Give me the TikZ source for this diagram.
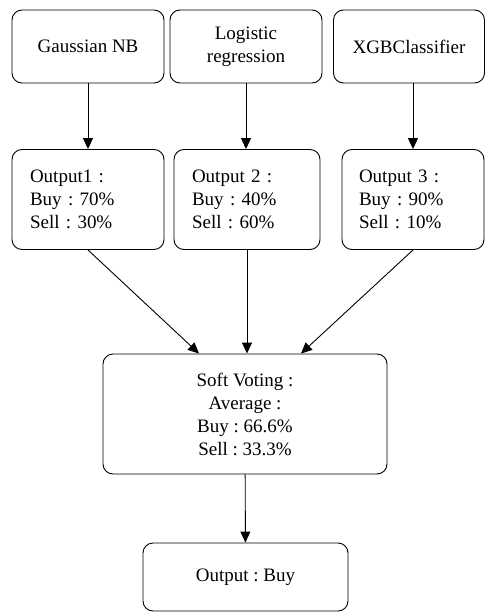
\documentclass[tikz,border=0pt]{standalone}
\usepackage{fontspec}
\setmainfont{Liberation Serif}
\newfontfamily\boxfont{Liberation Serif}
\usetikzlibrary{arrows.meta,positioning}
\frenchspacing

\begin{document}
\begin{tikzpicture}[x=1pt, y=-1pt,
    box/.style={draw, rounded corners=10pt, line width=0.9pt, align=center, inner sep=0pt,
        font=\boxfont\fontsize{19}{23}\selectfont},
    res/.style={box, align=left, minimum height=100pt},
    flow/.style={-{Triangle[length=11pt,width=10pt]}, line width=0.9pt}]
    \useasboundingbox (0,0) rectangle (485,613);

    % models
    \node[box, minimum width=152pt, minimum height=73pt] (gnb) at (88,46.5) {Gaussian NB};
    \node[box, minimum width=152pt, minimum height=73pt] (logreg) at (246,46.5) {Logistic\\regression};
    \node[box, minimum width=151pt, minimum height=73pt] (xgb) at (409,46.5) {XGBClassifier};

    % outputs
    \node[res, text width=116pt, inner xsep=18pt] (out1) at (88,199.5) {Output1 :\\Buy : 70\%\\Sell : 30\%};
    \node[res, text width=110pt, inner xsep=18pt] (out2) at (247,199.5) {Output 2 :\\Buy : 40\%\\Sell : 60\%};
    \node[res, text width=108pt, inner xsep=17pt] (out3) at (413,199.5) {Output 3 :\\Buy : 90\%\\Sell : 10\%};

    \node[box, minimum width=284pt, minimum height=120pt] (vote) at (245,414) {Soft Voting :\\Average :\\Buy : 66.6\%\\Sell : 33.3\%};
    \node[box, minimum width=205pt, minimum height=68pt] (final) at (245.5,577) {Output : Buy};

    \draw[flow] (gnb) -- (out1);
    \draw[flow] (logreg) -- (logreg |- out2.north);
    \draw[flow] (xgb.south -| out3) -- (out3);
    \draw[flow] (out1.south) -- ([xshift=-46pt]vote.north);
    \draw[flow] (out2.south) -- (out2.south |- vote.north);
    \draw[flow] (out3.south) -- ([xshift=56pt]vote.north);
    \draw[flow] (vote) -- (final);
\end{tikzpicture}
\end{document}
